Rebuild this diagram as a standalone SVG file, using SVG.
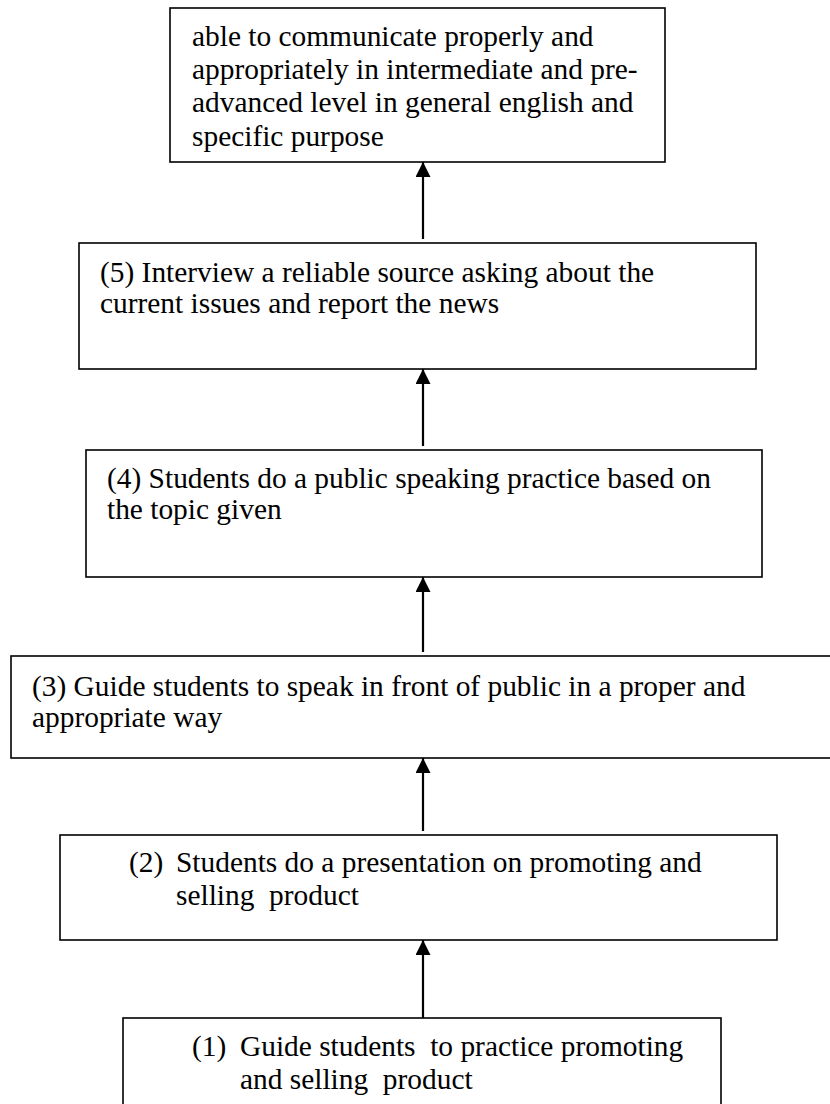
<svg xmlns="http://www.w3.org/2000/svg" width="830" height="1104" viewBox="0 0 830 1104">
<style>
.box{fill:#fff;stroke:#000;stroke-width:1.6}
.t{font-family:"Liberation Serif","Times New Roman",serif;font-size:29.4px;fill:#000}
.conn{stroke:#000;stroke-width:2.2;fill:none}
</style>
<defs>
<marker id="ah" viewBox="0 0 15 15" refX="15" refY="7.5" markerWidth="15" markerHeight="15" markerUnits="userSpaceOnUse" orient="auto">
<path d="M0,0 L15,7.5 L0,15 Z" fill="#000"/>
</marker>
</defs>
<rect width="830" height="1104" fill="#fff"/>
<g id="node-goal">
<rect class="box" x="170" y="8" width="495" height="154"/>
<text class="t" x="192" y="46">able to communicate properly and</text>
<text class="t" x="192" y="79">appropriately in intermediate and pre-</text>
<text class="t" x="192" y="112">advanced level in general english and</text>
<text class="t" x="192" y="146">specific purpose</text>
</g>
<g id="node-5">
<rect class="box" x="79" y="243" width="677" height="126"/>
<text class="t" x="100" y="282">(5) Interview a reliable source asking about the</text>
<text class="t" x="100" y="313">current issues and report the news</text>
</g>
<g id="node-4">
<rect class="box" x="86" y="450" width="676" height="127"/>
<text class="t" x="107" y="488">(4) Students do a public speaking practice based on</text>
<text class="t" x="107" y="519">the topic given</text>
</g>
<g id="node-3">
<rect class="box" x="11" y="656" width="830" height="102"/>
<text class="t" x="32" y="696">(3) Guide students to speak in front of public in a proper and</text>
<text class="t" x="32" y="727">appropriate way</text>
</g>
<g id="node-2">
<rect class="box" x="60" y="835" width="717" height="105"/>
<text class="t" x="129" y="872">(2)</text>
<text class="t" x="176" y="872">Students do a presentation on promoting and</text>
<text class="t" x="176" y="905" xml:space="preserve">selling  product</text>
</g>
<g id="node-1">
<rect class="box" x="123" y="1018" width="598" height="100"/>
<text class="t" x="192" y="1056">(1)</text>
<text class="t" x="240" y="1056" xml:space="preserve">Guide students  to practice promoting</text>
<text class="t" x="240" y="1089" xml:space="preserve">and selling  product</text>
</g>
<g id="connectors">
<line class="conn" x1="423" y1="1018" x2="423" y2="940" marker-end="url(#ah)"/>
<line class="conn" x1="423" y1="831" x2="423" y2="758" marker-end="url(#ah)"/>
<line class="conn" x1="423" y1="652" x2="423" y2="577" marker-end="url(#ah)"/>
<line class="conn" x1="423" y1="446" x2="423" y2="369" marker-end="url(#ah)"/>
<line class="conn" x1="423" y1="239" x2="423" y2="162" marker-end="url(#ah)"/>
</g>
</svg>
